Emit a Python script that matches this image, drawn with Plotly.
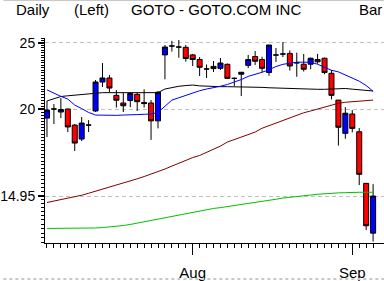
import plotly.graph_objects as go
import math

# ---- data ----
bar_idx = list(range(48))
opens = [19.42, 20.02, 19.82, 20.02, 18.97, 18.10, 18.97, 19.89, 21.92, 22.22,
         20.96, 20.43, 20.60, 21.03, 20.47, 20.43, 19.24, 24.01, 24.74, 24.65,
         24.63, 24.01, 23.64, 22.90, 23.10, 22.95, 23.26, 22.19, 22.50, 23.18,
         23.88, 23.64, 22.63, 24.00, 24.08, 24.13, 23.38, 23.27, 23.27, 23.64,
         23.74, 22.57, 20.63, 18.45, 19.69, 18.55, 15.60, 13.20]
highs = [20.57, 20.36, 20.77, 20.05, 19.04, 19.49, 19.29, 22.07, 23.36, 22.44,
         21.34, 21.14, 21.20, 21.18, 21.39, 20.63, 21.27, 24.82, 25.17, 25.24,
         24.82, 24.09, 23.84, 23.25, 23.52, 23.76, 23.33, 22.26, 22.67, 24.01,
         24.32, 23.86, 24.82, 24.57, 25.07, 24.37, 24.19, 24.08, 23.80, 24.09,
         23.80, 22.82, 20.63, 20.15, 19.95, 18.78, 15.62, 15.56]
lows = [18.22, 19.04, 19.42, 18.53, 17.39, 17.98, 18.53, 19.82, 21.56, 21.16,
        20.12, 19.82, 20.15, 19.89, 20.12, 18.05, 18.76, 22.12, 24.28, 23.78,
        23.47, 23.13, 22.37, 22.22, 22.67, 22.82, 22.14, 21.63, 20.91, 22.97,
        23.21, 22.63, 22.39, 23.44, 23.84, 22.78, 22.31, 22.71, 22.88, 23.31,
        22.50, 20.68, 17.71, 18.12, 18.51, 15.51, 13.34, 12.83]
closes = [19.95, 20.02, 19.99, 18.85, 17.86, 19.10, 18.97, 21.92, 22.22, 21.48,
          20.62, 20.24, 21.09, 20.52, 20.39, 19.24, 21.18, 24.65, 24.74, 24.65,
          23.72, 23.64, 23.03, 22.90, 22.93, 23.36, 22.19, 22.19, 22.65, 23.64,
          23.50, 22.95, 24.82, 24.00, 24.08, 23.13, 23.38, 22.88, 23.74, 23.46,
          22.63, 20.96, 18.83, 19.74, 18.76, 16.08, 13.53, 14.95]

ma_blue = [21.35, 21.09, 20.89, 20.70, 20.29, 20.05, 19.79, 19.62, 19.60, 19.60,
           19.60, 19.62, 19.62, 19.65, 19.67, 19.69, 19.79, 20.19, 20.63, 20.79,
           20.96, 21.12, 21.29, 21.41, 21.50, 21.61, 21.74, 21.90, 22.10, 22.34,
           22.48, 22.65, 22.84, 23.09, 23.26, 23.37, 23.43, 23.43, 23.42, 23.27,
           23.05, 22.80, 22.68, 22.46, 22.24, 21.98, 21.66, 21.25]
ma_black = [20.57, 20.74, 20.88, 20.93, 20.98, 20.98, 21.05, 21.10, 21.15, 21.15,
            21.15, 21.15, 21.15, 21.15, 21.15, 21.15, 21.15, 21.41, 21.53, 21.61,
            21.66, 21.70, 21.64, 21.61, 21.58, 21.58, 21.58, 21.58, 21.58, 21.58,
            21.56, 21.53, 21.50, 21.48, 21.46, 21.44, 21.41, 21.41, 21.40, 21.39,
            21.39, 21.41, 21.45, 21.45, 21.40, 21.34, 21.30, 21.27]
ma_darkred = [14.63, 14.70, 14.76, 14.84, 14.91, 14.99, 15.09, 15.19, 15.29, 15.39,
              15.50, 15.61, 15.72, 15.84, 15.96, 16.09, 16.21, 16.37, 16.53, 16.70,
              16.87, 17.01, 17.13, 17.30, 17.48, 17.68, 17.92, 18.07, 18.21, 18.38,
              18.53, 18.77, 18.94, 19.10, 19.29, 19.42, 19.59, 19.77, 19.89, 20.02,
              20.13, 20.29, 20.41, 20.48, 20.53, 20.58, 20.61, 20.63]
ma_green = [13.41, 13.41, 13.41, 13.41, 13.41, 13.41, 13.41, 13.43, 13.45, 13.47,
            13.50, 13.54, 13.59, 13.65, 13.72, 13.79, 13.85, 13.91, 13.98, 14.03,
            14.08, 14.15, 14.22, 14.29, 14.34, 14.38, 14.43, 14.48, 14.51, 14.55,
            14.62, 14.68, 14.73, 14.79, 14.85, 14.88, 14.93, 14.97, 15.00, 15.04,
            15.07, 15.09, 15.11, 15.12, 15.14, 15.14, 15.14, 15.14]

y_tickvals = [14.95, 20, 25]
y_ticktext = ["14.95", "20", "25"]
x_tickvals = [21, 44]
x_ticktext = ["Aug", "Sep"]
y_minor_vals = [round(12.8 + 0.2 * k, 1) for k in range(64)]

# ---- layout geometry ----
W, H = 384, 281
L, R, T, B = 42, 0, 38, 38
PW, PH = W - L - R, H - T - B

def px_x(px):
    return (px - L) / PW

def px_y(py):
    return 1 - (py - T) / PH

FONT = "Liberation Sans, Arial, sans-serif"

fig = go.Figure()
for vals, col in [(ma_green, "#00c000"), (ma_darkred, "#800000"),
                  (ma_black, "#000000"), (ma_blue, "#0000ff")]:
    fig.add_trace(go.Scatter(x=bar_idx, y=vals, mode="lines",
                             line=dict(color=col, width=1), hoverinfo="skip"))

fig.add_trace(go.Candlestick(
    x=bar_idx, open=opens, high=highs, low=lows, close=closes,
    increasing=dict(fillcolor="#0000ff", line=dict(color="#000000", width=1)),
    decreasing=dict(fillcolor="#ff0000", line=dict(color="#000000", width=1)),
    whiskerwidth=0,
))

fig.update_layout(
    width=W, height=H,
    margin=dict(l=L, r=R, t=T, b=B, pad=0),
    paper_bgcolor="white", plot_bgcolor="white",
    showlegend=False,
    boxgap=0.15, boxgroupgap=0.15,
    font=dict(family=FONT, size=15, color="black"),
    xaxis=dict(
        range=[-2 / 7, 48.571], rangeslider=dict(visible=False),
        showgrid=False, zeroline=False,
        showline=True, linecolor="black", linewidth=1,
        tickmode="array", tickvals=x_tickvals, ticktext=x_ticktext,
        ticks="outside", ticklen=11, tickcolor="black", tickwidth=1,
        ticklabelstandoff=5,
        tickfont=dict(size=15),
        minor=dict(tickmode="array", tickvals=bar_idx, ticks="outside",
                   ticklen=4, tickcolor="black", tickwidth=1, showgrid=False),
    ),
    yaxis=dict(
        type="log", range=[math.log10(12.77), math.log10(25.41)],
        showline=True, linecolor="black", linewidth=1, zeroline=False,
        tickmode="array", tickvals=y_tickvals, ticktext=y_ticktext,
        ticks="outside", ticklen=6, tickcolor="black", tickwidth=2,
        tickfont=dict(size=14),
        showgrid=True, gridcolor="#c0c0c0", griddash="4px,3px", gridwidth=1,
        minor=dict(tickmode="array", tickvals=y_minor_vals, ticks="outside",
                   ticklen=3, tickcolor="black", tickwidth=1, showgrid=False),
    ),
)

titles = [("Daily", 11, "left"), ("(Left)", 69, "left"),
          ("GOTO - GOTO.COM INC", 127, "left"), ("Bar", 384, "right")]
for txt, px, anchor in titles:
    fig.add_annotation(text=txt, xref="paper", yref="paper",
                       x=px_x(px), y=px_y(10), xanchor=anchor, yanchor="middle",
                       showarrow=False, font=dict(family=FONT, size=15, color="black"))

fig.add_shape(type="line", xref="paper", yref="paper", x0=px_x(0), x1=px_x(W),
              y0=px_y(0.5), y1=px_y(0.5), line=dict(color="#c8c8c8", width=1))
fig.add_shape(type="line", xref="paper", yref="paper", x0=px_x(0), x1=px_x(W),
              y0=px_y(279), y1=px_y(279), line=dict(color="#c8c8c8", width=2, dash="dot"))

fig.write_html("out.html")
